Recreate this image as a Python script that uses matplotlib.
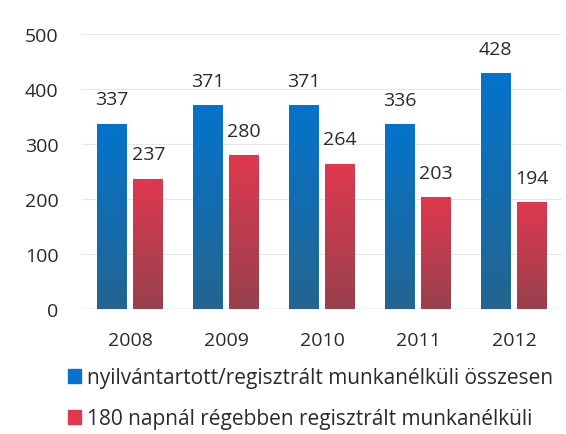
import numpy as np
import matplotlib.pyplot as plt
from matplotlib.colors import LinearSegmentedColormap
from matplotlib.patches import Patch

years = ["2008", "2009", "2010", "2011", "2012"]
total = [337, 371, 371, 336, 428]
over180 = [237, 280, 264, 203, 194]
labels = ["nyilvántartott/regisztrált munkanélküli összesen",
          "180 napnál régebben regisztrált munkanélküli"]

plt.rcParams['font.family'] = ['Open Sans', 'DejaVu Sans']

fig = plt.figure(figsize=(5.66, 4.35), dpi=100)
ax = fig.add_axes([0.145, 0.287, 0.848, 0.633])

x = np.arange(len(years))
w = 0.31
off = 0.19
txt = "#2a2a2a"

blue_top, blue_bot = "#0573CC", "#23658F"
red_top, red_bot = "#E0384E", "#97414F"

b1 = ax.bar(x - off, total, w, color="none", zorder=3)
b2 = ax.bar(x + off, over180, w, color="none", zorder=3)

# vertical gradient fill, clipped to each bar
grad = np.linspace(0, 1, 256).reshape(-1, 1)
for bars, (bot, top) in [(b1, (blue_bot, blue_top)), (b2, (red_bot, red_top))]:
    cmap = LinearSegmentedColormap.from_list("g", [bot, top])
    for bar in bars:
        x0, y0 = bar.get_x(), bar.get_y()
        bw, bh = bar.get_width(), bar.get_height()
        im = ax.imshow(grad, extent=[x0, x0 + bw, y0, y0 + bh], origin="lower",
                       aspect="auto", cmap=cmap, zorder=2)
        im.set_clip_path(bar)

for bars, vals in [(b1, total), (b2, over180)]:
    for bar, v in zip(bars, vals):
        ax.annotate(str(v), (bar.get_x() + bar.get_width() / 2, v),
                    xytext=(0, 11), textcoords="offset points",
                    ha="center", va="bottom", fontsize=14, color=txt)

ax.set_xlim(-0.5, 4.5)
ax.set_ylim(0, 500)
ax.set_yticks(np.arange(0, 501, 100))
ax.set_xticks(x)
ax.set_xticklabels(years)
ax.tick_params(axis="both", length=0, labelsize=14, colors=txt)
ax.tick_params(axis="x", pad=16)
ax.tick_params(axis="y", pad=17)
for s in ax.spines.values():
    s.set_visible(False)
ax.grid(axis="y", color="#e6e6e6", linewidth=0.8, zorder=0)
ax.axhline(0, color="#c8c8c8", linewidth=1, zorder=1)

handles = [Patch(color=blue_top), Patch(color=red_top)]
fig.legend(handles, labels, loc="upper left", bbox_to_anchor=(0.12, 0.153),
           frameon=False, fontsize=15, handlelength=0.63, handleheight=0.63,
           handletextpad=0.3, labelspacing=0.95, labelcolor=txt,
           borderaxespad=0, borderpad=0)

fig.savefig("out.png", dpi=100)
